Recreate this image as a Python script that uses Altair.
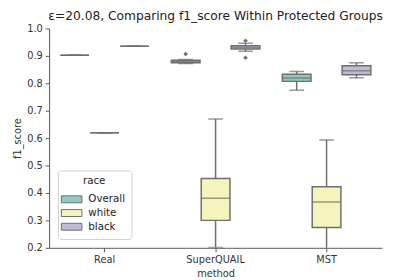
import altair as alt
import pandas as pd

methods = ["Real", "Real", "Real", "SuperQUAIL", "SuperQUAIL", "SuperQUAIL", "MST", "MST", "MST"]
races = ["Overall", "white", "black"] * 3
whisk_lo = [0.902, 0.620, 0.935, 0.872, 0.201, 0.917, 0.775, 0.170, 0.820]
q1 = [0.902, 0.620, 0.935, 0.875, 0.300, 0.925, 0.807, 0.274, 0.831]
median = [0.902, 0.620, 0.935, 0.879, 0.381, 0.931, 0.819, 0.367, 0.846]
q3 = [0.902, 0.620, 0.935, 0.884, 0.4525, 0.937, 0.833, 0.4225, 0.864]
whisk_hi = [0.902, 0.620, 0.935, 0.887, 0.670, 0.946, 0.843, 0.593, 0.875]

flier_method = ["SuperQUAIL", "SuperQUAIL", "SuperQUAIL"]
flier_race = ["Overall", "black", "black"]
flier_value = [0.907, 0.955, 0.893]

y_ticks = [0.2, 0.3, 0.4, 0.5, 0.6, 0.7, 0.8, 0.9, 1.0]
method_order = ["Real", "SuperQUAIL", "MST"]
race_order = ["Overall", "white", "black"]
race_colors = ["#91c9bf", "#f4f4bc", "#bfbbd6"]
gray = "#6e6e6e"

df = pd.DataFrame({"method": methods, "race": races, "lo": whisk_lo,
                   "q1": q1, "med": median, "q3": q3, "hi": whisk_hi})
fl = pd.DataFrame({"method": flier_method, "race": flier_race, "v": flier_value})

xenc = alt.X("method:N", sort=method_order, title="method",
             scale=alt.Scale(paddingInner=0, paddingOuter=0),
             axis=alt.Axis(labelAngle=0, ticks=True, tickSize=4))
xoff = alt.XOffset("race:N", sort=race_order,
                   scale=alt.Scale(domain=race_order, paddingOuter=0.375, paddingInner=0.04))
yscale = alt.Scale(domain=[0.2, 1.0], nice=False, clamp=False)
yaxis = alt.Axis(values=y_ticks, format=".1f", tickSize=4, grid=False,
                 title="f1_score", labelOverlap=False)


def Y(field):
    return alt.Y(field, scale=yscale, axis=yaxis, title="f1_score")


base = alt.Chart(df)

whisk = base.mark_rule(color=gray, strokeWidth=1.5, clip=True).encode(
    x=xenc, xOffset=xoff, y=Y("lo:Q"), y2="hi:Q")

box = base.mark_bar(stroke=gray, strokeWidth=1.5, clip=True).encode(
    x=xenc, xOffset=xoff,
    y=Y("q1:Q"), y2="q3:Q",
    color=alt.Color("race:N", sort=race_order,
                    scale=alt.Scale(domain=race_order, range=race_colors),
                    legend=alt.Legend(title="race", orient="bottom-left",
                                      symbolType="M-1.4,-0.47L1.4,-0.47L1.4,0.47L-1.4,0.47Z",
                                      symbolSize=225, symbolStrokeColor=gray,
                                      symbolStrokeWidth=1, symbolOpacity=1,
                                      labelOffset=9, titleAnchor="middle",
                                      titleAlign="center", offset=9)))

med = base.mark_tick(color=gray, thickness=1.5, size=29, clip=True).encode(
    x=xenc, xOffset=xoff, y=Y("med:Q"))
cap_lo = base.mark_tick(color=gray, thickness=1.5, size=15, clip=True).encode(
    x=xenc, xOffset=xoff, y=Y("lo:Q"))
cap_hi = base.mark_tick(color=gray, thickness=1.5, size=15, clip=True).encode(
    x=xenc, xOffset=xoff, y=Y("hi:Q"))

flier = alt.Chart(fl).mark_point(shape="diamond", filled=True, color=gray,
                                 size=22, opacity=1).encode(
    x=xenc, xOffset=xoff, y=Y("v:Q"))

chart = alt.layer(whisk, box, med, cap_lo, cap_hi, flier).properties(
    width=340, height=224,
    title=alt.Title("ε=20.08, Comparing f1_score Within Protected Groups",
                    fontSize=12.5, fontWeight="normal", font="DejaVu Sans",
                    color="#222", offset=1),
    autosize=alt.AutoSizeParams(type="none"),
    padding={"left": 42, "top": 18, "right": 3, "bottom": 30},
).configure_view(stroke=None).configure_axis(
    labelFont="DejaVu Sans", titleFont="DejaVu Sans", labelFontSize=10,
    titleFontSize=10, titleFontWeight="normal", labelColor="#333",
    titleColor="#333", domainColor="#555", tickColor="#555", domainWidth=1,
    titlePadding=4, labelPadding=3
).configure_legend(
    labelFont="DejaVu Sans", titleFont="DejaVu Sans", labelFontSize=10.5,
    titleFontSize=10.5, titleFontWeight="normal",
    fillColor="white", strokeColor="#d0d0d0", cornerRadius=3, padding=6,
    rowPadding=0, labelColor="#222", titleColor="#222"
)

chart.save("out.html", embed_options={"renderer": "svg", "actions": False})
